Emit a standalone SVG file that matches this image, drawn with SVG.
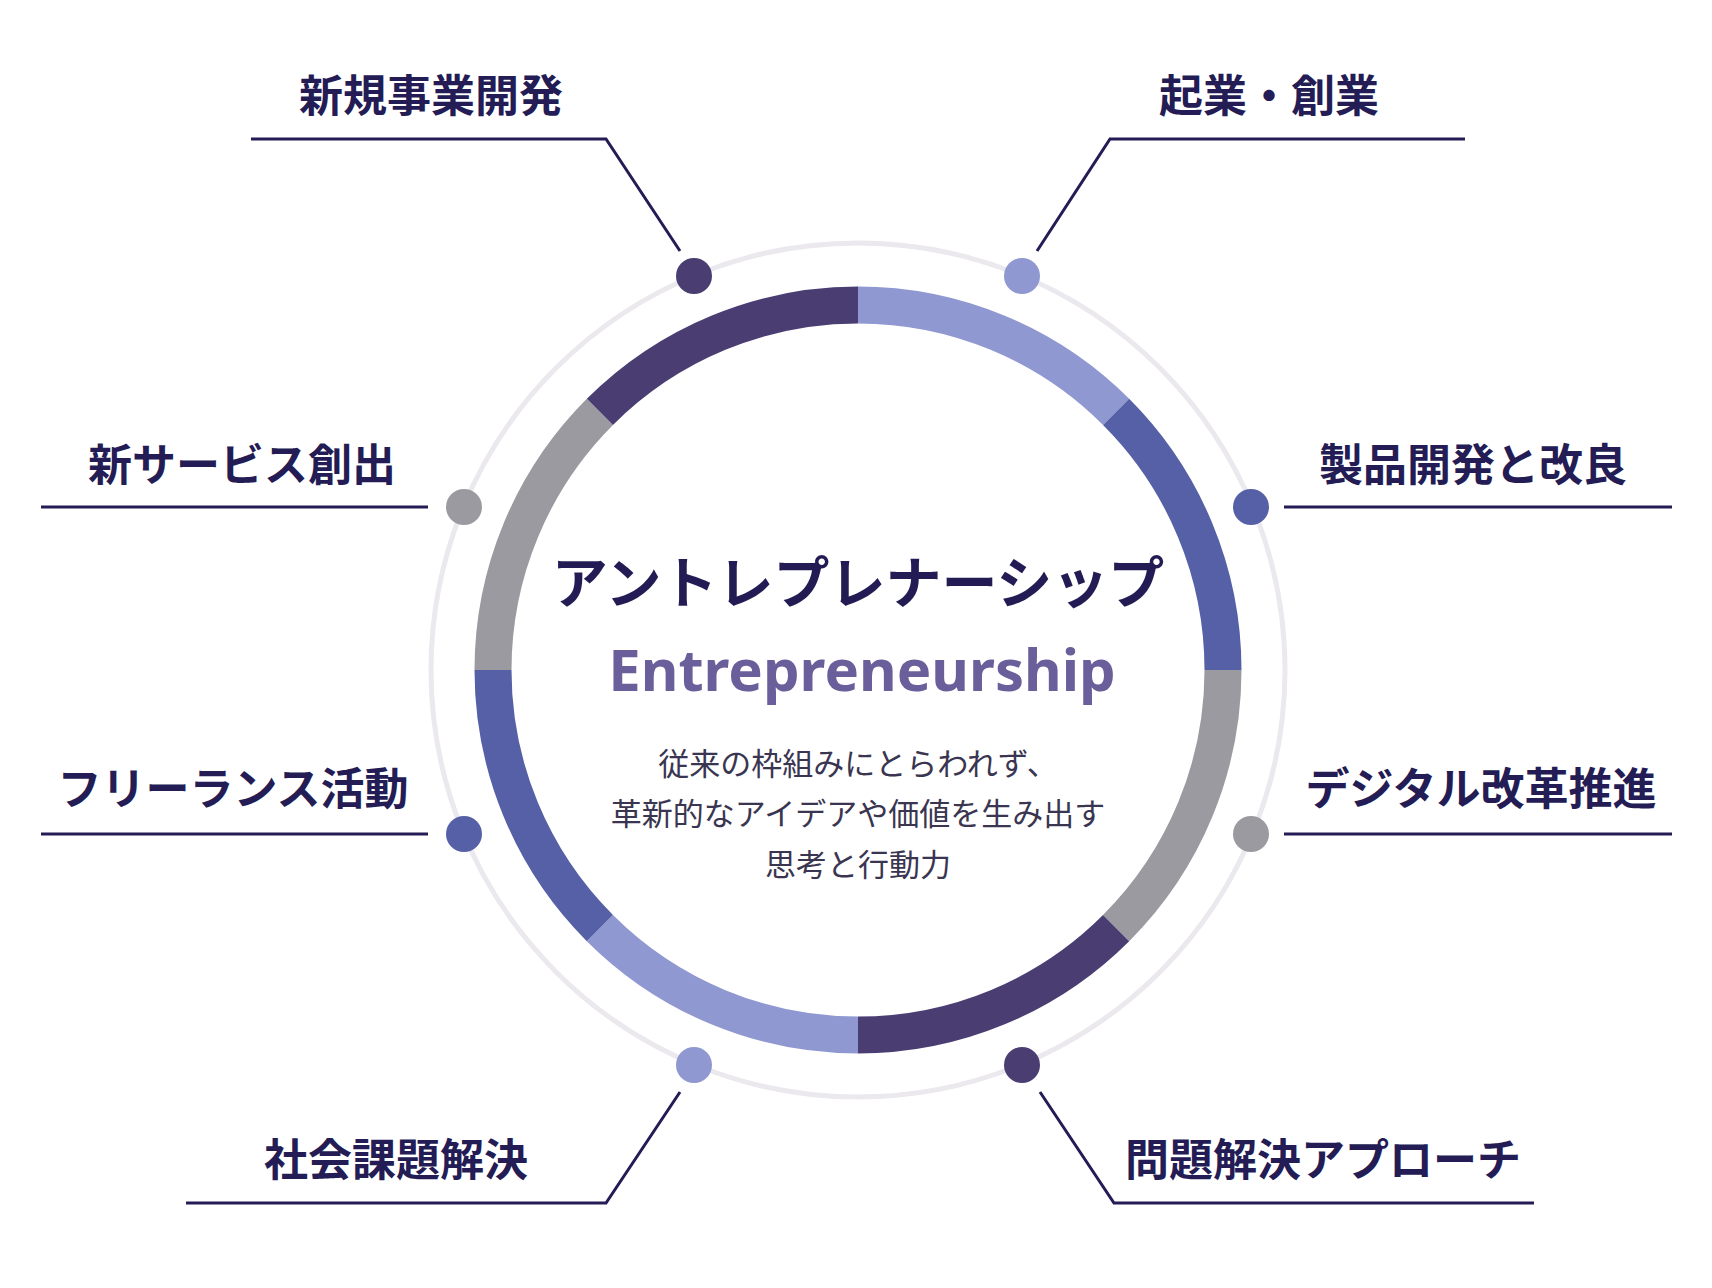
<svg xmlns="http://www.w3.org/2000/svg" width="1712" height="1288" viewBox="0 0 1712 1288">
<style>
.lbl{font-family:"Noto Sans CJK JP","Noto Sans",sans-serif;font-weight:700;font-size:44px;fill:#241c55;text-anchor:middle}
.ln{fill:none;stroke:#241c55;stroke-width:3}
.seg{fill:none;stroke-width:37}
.body{font-family:"Noto Sans CJK JP",sans-serif;font-size:31px;fill:#3a3550;text-anchor:middle}
</style>
<rect width="1712" height="1288" fill="#fff"/>
<circle cx="858" cy="670" r="427" fill="none" stroke="#ebe8ee" stroke-width="5"/>
<g id="ring">
<path class="seg" stroke="#8f98d0" d="M858 305 A365 365 0 0 1 1116.1 411.9"/>
<path class="seg" stroke="#5560a6" d="M1116.1 411.9 A365 365 0 0 1 1223 670"/>
<path class="seg" stroke="#9a9aa0" d="M1223 670 A365 365 0 0 1 1116.1 928.1"/>
<path class="seg" stroke="#4a3d72" d="M1116.1 928.1 A365 365 0 0 1 858 1035"/>
<path class="seg" stroke="#8f98d0" d="M858 1035 A365 365 0 0 1 599.9 928.1"/>
<path class="seg" stroke="#5560a6" d="M599.9 928.1 A365 365 0 0 1 493 670"/>
<path class="seg" stroke="#9a9aa0" d="M493 670 A365 365 0 0 1 599.9 411.9"/>
<path class="seg" stroke="#4a3d72" d="M599.9 411.9 A365 365 0 0 1 858 305"/>
</g>
<g id="center">
<text x="858" y="603" font-family="'Noto Sans CJK JP',sans-serif" font-weight="700" font-size="56" fill="#231c54" text-anchor="middle">アントレプレナーシップ</text>
<text x="862" y="691" font-family="'Noto Sans','Open Sans',sans-serif" font-weight="700" font-size="58" fill="#6a5f9a" text-anchor="middle">Entrepreneurship</text>
<text class="body" x="858" y="775">従来の枠組みにとらわれず、</text>
<text class="body" x="858" y="825">革新的なアイデアや価値を生み出す</text>
<text class="body" x="858" y="876">思考と行動力</text>
</g>
<g id="connectors">
<polyline class="ln" points="251,139 606,139 680,251"/>
<polyline class="ln" points="1465,139 1110,139 1037,251"/>
<polyline class="ln" points="41,507 428,507"/>
<polyline class="ln" points="1284,507 1672,507"/>
<polyline class="ln" points="41,834 428,834"/>
<polyline class="ln" points="1284,834 1672,834"/>
<polyline class="ln" points="186,1203 606,1203 680,1092"/>
<polyline class="ln" points="1534,1203 1114,1203 1040,1092"/>
</g>
<g id="n1"><circle cx="694" cy="276" r="18" fill="#4a3d72"/><text class="lbl" x="431" y="112">新規事業開発</text></g>
<g id="n2"><circle cx="1022" cy="276" r="18" fill="#8f98d0"/><text class="lbl" x="1269" y="112">起業・創業</text></g>
<g id="n3"><circle cx="464" cy="507" r="18" fill="#9a9aa0"/><text class="lbl" x="242" y="481">新サービス創出</text></g>
<g id="n4"><circle cx="1251" cy="507" r="18" fill="#5560a6"/><text class="lbl" x="1473" y="481">製品開発と改良</text></g>
<g id="n5"><circle cx="464" cy="834" r="18" fill="#5560a6"/><text class="lbl" x="233" y="805">フリーランス活動</text></g>
<g id="n6"><circle cx="1251" cy="834" r="18" fill="#9a9aa0"/><text class="lbl" x="1481" y="805">デジタル改革推進</text></g>
<g id="n7"><circle cx="694" cy="1065" r="18" fill="#8f98d0"/><text class="lbl" x="396" y="1176">社会課題解決</text></g>
<g id="n8"><circle cx="1022" cy="1065" r="18" fill="#4a3d72"/><text class="lbl" x="1323" y="1176">問題解決アプローチ</text></g>
</svg>
